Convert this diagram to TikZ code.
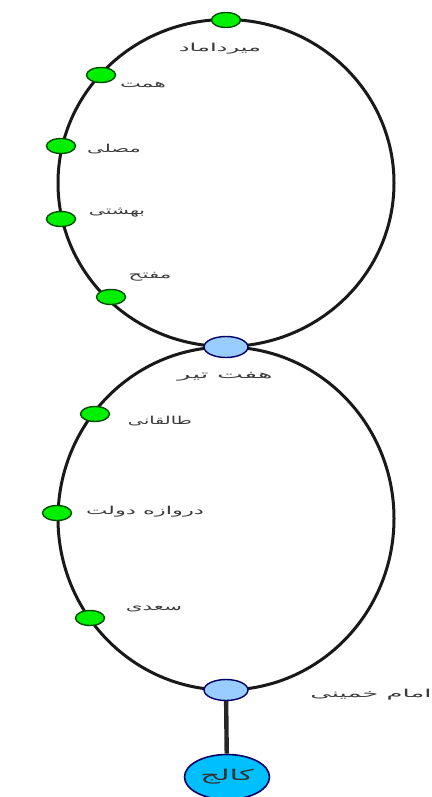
\documentclass[tikz,border=0pt]{standalone}
\usepackage{fontspec}
\TeXXeTstate=1
\newfontfamily\arabicfont[Script=Arabic]{DejaVu Sans}
\definecolor{stgreen}{HTML}{00F000}
\definecolor{stblue}{HTML}{99CCFF}
\definecolor{stcyan}{HTML}{00BFFF}
\definecolor{txtgray}{HTML}{3A3A3A}
\usetikzlibrary{shapes.geometric}
\tikzset{
  lineloop/.style={draw=black!90,line width=3pt},
  stalk/.style={draw=black!85,line width=4.4pt},
  smallst/.style={ellipse,draw=black!70!green,fill=stgreen,line width=1.4pt,minimum width=29pt,minimum height=15pt,inner sep=0pt},
  bigst/.style={ellipse,draw=black!60!blue,fill=stblue,line width=1.4pt,minimum width=44pt,minimum height=21pt,inner sep=0pt},
  termst/.style={ellipse,draw=black!60!blue,fill=stcyan,line width=1.6pt,minimum width=85pt,minimum height=45pt,inner sep=0pt},
  lab/.style={font=\arabicfont\fontsize{11}{11}\selectfont,text=txtgray,inner sep=0pt,transform shape}
}
\begin{document}
\begin{tikzpicture}[x=1pt,y=-1pt]
\useasboundingbox (0,0) rectangle (431,797);
\coordinate (ctop) at (226,183);
\coordinate (cbot) at (226,518.5);
\draw[lineloop] (ctop) ellipse [x radius=168pt,y radius=163.5pt];
\draw[lineloop] (cbot) ellipse [x radius=168pt,y radius=171.5pt];
\node[bigst] (hafttir) at (226,347) {};
\node[bigst] (khomeini) at (226,690) {};
\node[termst] (kalej) at (227,777) {};
\node[lab,font=\arabicfont\fontsize{15}{15}\selectfont,text=black!80,xscale=2.05] (lkalej) at (227,777) {\beginR کالج\endR};
\draw[stalk] (khomeini) -- (kalej);
\node[smallst] (mirdamad) at (226,20) {};
\node[smallst] (hemmat) at (101,75) {};
\node[smallst] (mosalla) at (61,146) {};
\node[smallst] (beheshti) at (61,219) {};
\node[smallst] (mofatteh) at (111,297) {};
\node[smallst] (taleghani) at (95,414) {};
\node[smallst] (darvazeh) at (57,513) {};
\node[smallst] (saadi) at (90,618) {};
\node[lab,xscale=2.2] (lmirdamad) at (220,49) {\beginR میرداماد\endR};
\node[lab,xscale=2] (lhemmat) at (143,85) {\beginR همت\endR};
\node[lab,xscale=1.9] (lmosalla) at (114,149) {\beginR مصلی\endR};
\node[lab,xscale=1.85] (lbeheshti) at (117,213) {\beginR بهشتی\endR};
\node[lab,xscale=1.95] (lmofatteh) at (150,277) {\beginR مفتح\endR};
\node[lab,xscale=2.5] (lhafttir) at (225,377) {\beginR هفت تیر\endR};
\node[lab,xscale=1.75] (ltaleghani) at (160,421) {\beginR طالقانی\endR};
\node[lab,xscale=2.05] (ldarvazeh) at (145,512) {\beginR دروازه دولت\endR};
\node[lab,xscale=1.95] (lsaadi) at (154,609) {\beginR سعدی\endR};
\node[lab,xscale=2.35] (lkhomeini) at (371,695) {\beginR امام خمینی\endR};
\end{tikzpicture}
\end{document}
